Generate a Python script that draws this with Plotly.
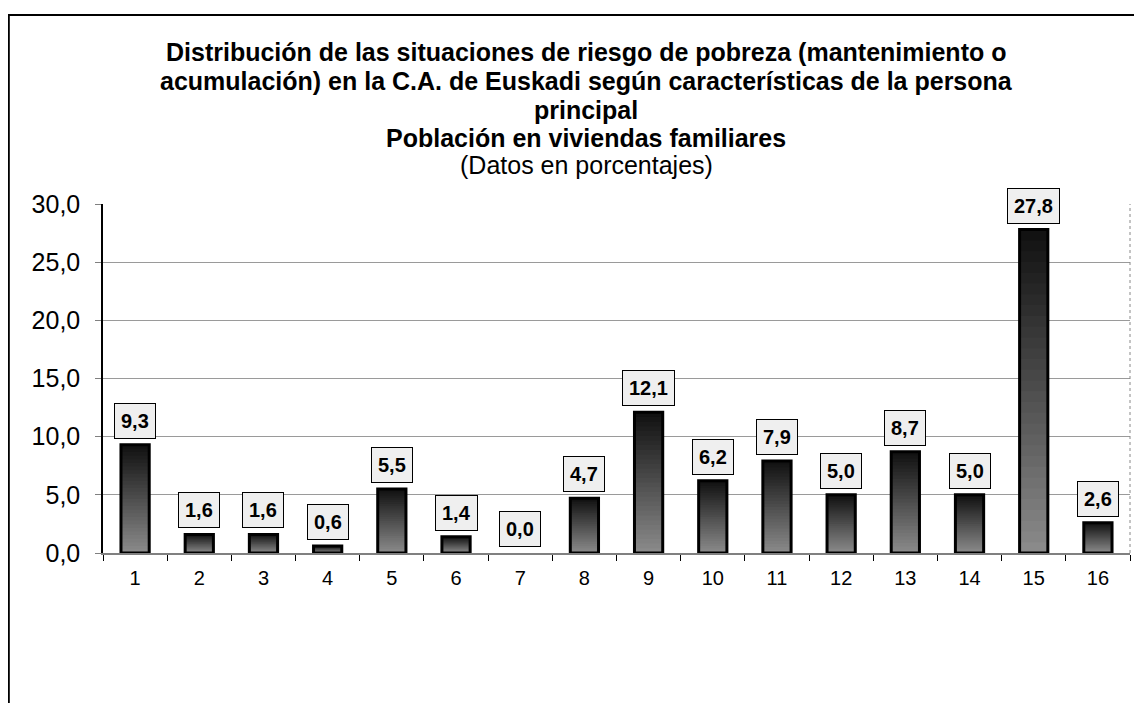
import plotly.graph_objects as go

categories = [str(i) for i in range(1, 17)]
values = [9.3, 1.6, 1.6, 0.6, 5.5, 1.4, 0.0, 4.7, 12.1, 6.2, 7.9, 5.0, 8.7, 5.0, 27.8, 2.6]
y_ticks = [0, 5, 10, 15, 20, 25, 30]

title_lines = [
    ("<b>Distribución de las situaciones de riesgo de pobreza (mantenimiento o</b>", 44),
    ("<b>acumulación) en la C.A. de Euskadi según características de la persona</b>", 73),
    ("<b>principal</b>", 102),
    ("<b>Población en viviendas familiares</b>", 130),
    ("(Datos en porcentajes)", 157),
]

FONT = "Liberation Sans, Arial, sans-serif"
W, H = 1126, 695
L, R, T, B = 95, 4, 196, 150
pw, ph = W - L - R, H - T - B

fig = go.Figure()

# gradient bars: overlapping slices, light at bottom to dark at top
N = 30
light = (138, 138, 138)
dark = (18, 18, 18)
for k in range(N):
    t = k / (N - 1)
    c = tuple(int(light[i] + (dark[i] - light[i]) * t) for i in range(3))
    fig.add_trace(go.Bar(
        x=categories,
        y=[v * (N - k) / N for v in values],
        base=[v * k / N for v in values],
        marker=dict(color="rgb(%d,%d,%d)" % c, line=dict(width=0)),
        width=0.44, hoverinfo="skip", showlegend=False,
    ))
# outline (none for empty bars)
fig.add_trace(go.Bar(
    x=categories, y=values, base=[0] * len(values),
    marker=dict(color="rgba(0,0,0,0)",
                line=dict(color="black", width=[3 if v > 0 else 0 for v in values])),
    width=0.44, showlegend=False,
))

annotations = []
for i, v in enumerate(values):
    annotations.append(dict(
        x=i, y=v, xref="x", yref="y", yanchor="bottom", yshift=6,
        text="<b>" + ("%.1f" % v).replace(".", ",") + "</b>",
        showarrow=False, font=dict(family=FONT, size=20, color="black"),
        bgcolor="#efefef", bordercolor="black", borderwidth=1, borderpad=6,
    ))

for txt, ypix in title_lines:
    annotations.append(dict(
        x=(578 - L) / pw, y=(H - B - ypix) / ph, xref="paper", yref="paper",
        xanchor="center", yanchor="middle", text=txt, showarrow=False,
        font=dict(family=FONT, size=25, color="black"),
    ))

shapes = [
    # outer frame
    dict(type="rect", xref="paper", yref="paper",
         x0=(0.8 - L) / pw, x1=(1160 - L) / pw,
         y0=(H - B - 730) / ph, y1=(H - B - 7) / ph,
         line=dict(color="black", width=2), fillcolor="rgba(0,0,0,0)", layer="below"),
    # right dashed plot border
    dict(type="line", xref="paper", yref="paper", x0=1, x1=1, y0=0, y1=1,
         line=dict(color="#888888", width=1, dash="dot")),
]

fig.update_layout(
    width=W, height=H,
    margin=dict(l=L, r=R, t=T, b=B),
    paper_bgcolor="white", plot_bgcolor="white",
    barmode="overlay", bargap=0.56,
    separators=",.",
    annotations=annotations, shapes=shapes,
    font=dict(family=FONT, color="black"),
    showlegend=False,
)
fig.update_xaxes(
    type="category", tickson="boundaries", ticks="outside", ticklen=6,
    tickcolor="black", showline=True, linecolor="#808080", linewidth=1.5,
    showgrid=False, tickfont=dict(family=FONT, size=20, color="black"),
    ticklabelstandoff=6,
)
fig.update_yaxes(
    range=[0, 30], tickvals=y_ticks, tickformat=".1f", ticks="outside", ticklen=6,
    tickcolor="#808080", showline=True, linecolor="black", linewidth=1.5,
    showgrid=True, gridcolor="#9a9a9a", gridwidth=1, zeroline=False,
    tickfont=dict(family=FONT, size=25, color="black"),
    ticklabelstandoff=10,
)

fig.write_html("out.html")
